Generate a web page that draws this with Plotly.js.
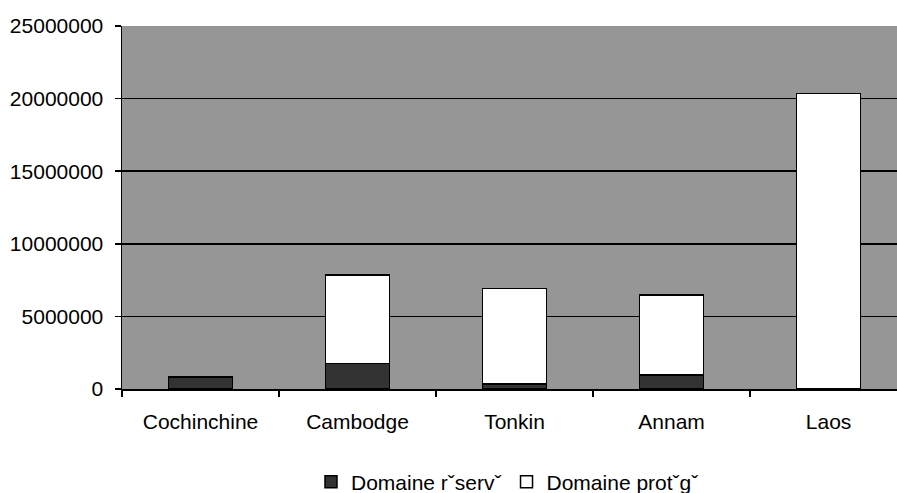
<!DOCTYPE html>
<html>
<head>
<meta charset="utf-8">
<script src="https://cdn.plot.ly/plotly-3.0.1.min.js"></script>
<style>html,body{margin:0;padding:0;background:#fff;overflow:hidden;}</style>
</head>
<body>
<div id="chart" style="width:897px;height:493px;"></div>
<script>
const categories = ["Cochinchine", "Cambodge", "Tonkin", "Annam", "Laos"];
const seriesNames = ["Domaine r\u02C7serv\u02C7", "Domaine prot\u02C7g\u02C7"];
const reserve = [780000, 1740000, 360000, 960000, 0];
const protege = [50000, 6110000, 6550000, 5530000, 20340000];
const yTicks = [0, 5000000, 10000000, 15000000, 20000000, 25000000];

const font = {family: '"Liberation Sans", Arial, sans-serif', size: 21, color: '#000'};

const traces = [
  {type: 'bar', name: seriesNames[0], x: categories, y: reserve,
   marker: {color: '#333333', line: {color: '#000', width: 1.5}}},
  {type: 'bar', name: seriesNames[1], x: categories, y: protege,
   marker: {color: '#ffffff', line: {color: '#000', width: 1.5}}}
];

const layout = {
  width: 897, height: 493,
  margin: {l: 122, r: 0, t: 26, b: 104},
  paper_bgcolor: '#fff',
  plot_bgcolor: '#969696',
  font: font,
  barmode: 'stack',
  bargap: 0.59,
  showlegend: true,
  legend: {orientation: 'h', xref: 'container', yref: 'container',
           x: 0.3467, xanchor: 'left', y: 0.022, yanchor: 'middle',
           traceorder: 'normal', font: font, bgcolor: 'rgba(0,0,0,0)'},
  xaxis: {type: 'category', range: [-0.5, 4.436], showline: true, linecolor: '#000', linewidth: 1.5,
          ticks: 'outside', tickson: 'boundaries', ticklen: 6, tickcolor: '#000', tickwidth: 1.5,
          showgrid: false, ticklabelstandoff: 13, fixedrange: true},
  yaxis: {range: [0, 25000000], tickvals: yTicks, tickformat: 'd',
          showline: true, linecolor: '#000', linewidth: 1.5,
          ticks: 'outside', ticklen: 6, tickcolor: '#000', tickwidth: 1.5,
          showgrid: true, gridcolor: '#000', gridwidth: 1.5, zeroline: false,
          ticklabelstandoff: 7, fixedrange: true}
};

Plotly.newPlot('chart', traces, layout, {displayModeBar: false, staticPlot: true});
</script>
</body>
</html>
